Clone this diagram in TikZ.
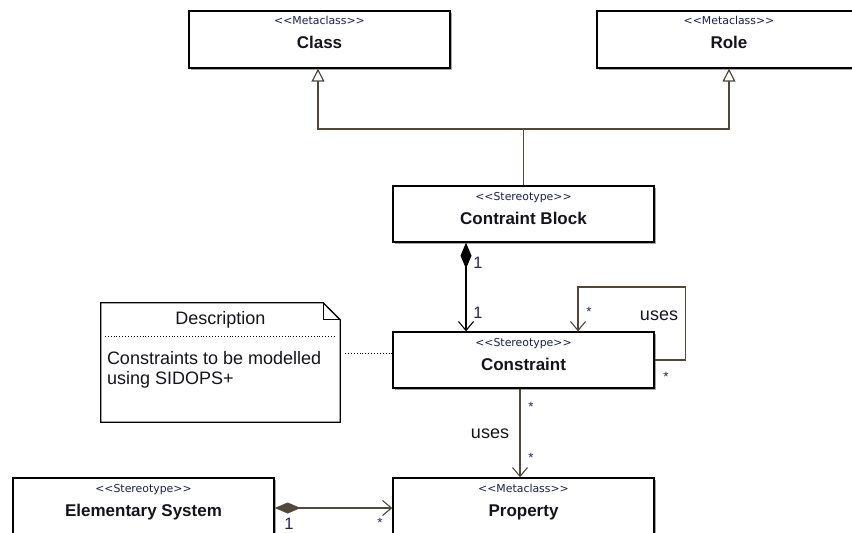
\documentclass[tikz,border=0pt]{standalone}
\usepackage{fontspec}
\setmainfont{Liberation Sans}
\newfontfamily\stereofont{DejaVu Sans}
\usetikzlibrary{arrows.meta,shadows}
\definecolor{linkcol}{RGB}{82,72,58}
\definecolor{multcol}{RGB}{45,30,100}
\definecolor{stereocol}{RGB}{25,32,80}
\definecolor{namecol}{RGB}{20,20,30}
\newcommand{\stereo}[1]{<\kern0pt<#1>\kern0pt>}
\tikzset{
  umlbox/.style={draw=black, line width=1.3pt, fill=white, inner sep=0pt,
    minimum width=261pt, minimum height=57pt,
    drop shadow={shadow xshift=1.8pt, shadow yshift=-1.8pt, fill=black!35, opacity=1}},
  sttext/.style={text=stereocol, font=\stereofont\fontsize{10.9}{12}\selectfont, inner sep=0pt, anchor=base},
  nametext/.style={text=namecol, font=\bfseries\fontsize{17}{20}\selectfont, inner sep=0pt, anchor=base},
  mult/.style={text=multcol, font=\fontsize{16.5}{18}\selectfont, inner sep=0pt},
  star/.style={text=multcol, font=\fontsize{13.5}{14}\selectfont, inner sep=0pt},
  assoclabel/.style={text=namecol, font=\fontsize{18}{20}\selectfont, inner sep=0pt},
  link/.style={draw=linkcol, line width=1.2pt},
  genarrow/.style={link, -{Triangle[open, length=13pt, width=13pt, fill=white]}},
  navarrow/.style={-{Straight Barb[length=9pt, width=15pt, line width=1.1pt]}},
  notetext/.style={text=namecol, font=\fontsize{18}{22}\selectfont, inner sep=0pt},
}
\begin{document}
\begin{tikzpicture}[x=1pt, y=-1pt]
  \useasboundingbox (0,0) rectangle (852,533);
  \clip (0,0) rectangle (852,533);

  % class boxes
  \node[umlbox] (cls)  at (319.5,39.5) {};
  \node[umlbox, minimum width=264pt] (role) at (729,39.5) {};
  \node[umlbox, minimum height=56pt] (blk)  at (523.5,214) {};
  \node[umlbox, minimum height=56pt] (con)  at (523.5,360) {};
  \node[umlbox] (prop) at (523.5,506.5) {};
  \node[umlbox] (elem) at (143.5,506.5) {};

  % stereotypes and names (placed on their baselines)
  \node[sttext]   (clsst)  at ([yshift=-14.5pt]cls.north)  {\stereo{Metaclass}};
  \node[nametext] (clsnm)  at ([yshift=-38.5pt]cls.north)  {Class};
  \node[sttext]   (rolest) at ([yshift=-14.5pt]role.north) {\stereo{Metaclass}};
  \node[nametext] (rolenm) at ([yshift=-38.5pt]role.north) {Role};
  \node[sttext]   (blkst)  at ([yshift=-15pt]blk.north)  {\stereo{Stereotype}};
  \node[nametext] (blknm)  at ([yshift=-39pt]blk.north)  {Contraint Block};
  \node[sttext]   (const)  at ([yshift=-15pt]con.north)  {\stereo{Stereotype}};
  \node[nametext] (connm)  at ([yshift=-39pt]con.north)  {Constraint};
  \node[sttext]   (propst) at ([yshift=-15pt]prop.north) {\stereo{Metaclass}};
  \node[nametext] (propnm) at ([yshift=-39pt]prop.north) {Property};
  \node[sttext]   (elemst) at ([yshift=-15pt]elem.north) {\stereo{Stereotype}};
  \node[nametext] (elemnm) at ([yshift=-39pt]elem.north) {Elementary System};

  % note with folded corner
  \node[minimum width=239pt, minimum height=119pt, inner sep=0pt] (note) at (220.5,362.5) {};
  \draw[line width=1.3pt, fill=white]
    (note.south west) -- (note.north west) -- ([xshift=-17pt]note.north east)
    -- ([yshift=-17pt]note.north east) -- (note.south east) -- cycle;
  \draw[line width=1.1pt]
    ([xshift=-17pt]note.north east) -- ([xshift=-17pt,yshift=-17pt]note.north east)
    -- ([yshift=-17pt]note.north east);
  \draw[line width=0.9pt, dotted] ([xshift=4pt,yshift=-34pt]note.north west)
    -- ([xshift=-4pt,yshift=-34pt]note.north east);
  \node[notetext] (notehd) at ([yshift=-17pt]note.north) {Description};
  \node[notetext, anchor=west] (notel1) at ([xshift=6pt,yshift=-55pt]note.north west) {Constraints to be modelled};
  \node[notetext, anchor=west] (notel2) at ([xshift=6pt,yshift=-77pt]note.north west) {using SIDOPS+};
  \coordinate (conlink) at ([yshift=7pt]con.west);
  \draw[line width=0.9pt, dotted] (conlink) -- ([xshift=4pt]note.east |- conlink);

  % generalisations
  \coordinate (genjoin) at (523.5,129);
  \draw[link] (blk.north) -- (genjoin);
  \draw[genarrow] (genjoin) -| ([xshift=-1.5pt]cls.south);
  \draw[genarrow] (genjoin) -| (role.south);

  % composition Contraint Block -> Constraint
  \draw[line width=1.2pt, {Diamond[length=26pt, width=11pt, fill=black]}-{Straight Barb[length=9pt, width=15pt, line width=1.1pt]}]
    ([xshift=-57.5pt]blk.south) -- ([xshift=-57.5pt]con.north);
  \node[mult] (m1a) at (478,263) {1};
  \node[mult] (m1b) at (478,313) {1};

  % self association "uses"
  \draw[link, navarrow] (con.east) -- ++(31,0) -- ++(0,-73) -| ([xshift=54.5pt]con.north);
  \node[star] (s1) at (589,312) {*};
  \node[assoclabel] (uses1) at (659,316) {uses};
  \node[star] (s2) at (666,377) {*};

  % Constraint uses Property
  \draw[link, navarrow] ([xshift=-3.5pt]con.south) -- ([xshift=-3.5pt]prop.north);
  \node[star] (s3) at (531,407) {*};
  \node[assoclabel] (uses2) at (490,434) {uses};
  \node[star] (s4) at (531,458) {*};

  % composition Elementary System -> Property
  \draw[link, {Diamond[length=26pt, width=11pt, fill=linkcol]}-{Straight Barb[length=9pt, width=15pt, line width=1.1pt]}]
    ([yshift=-1.5pt]elem.east) -- ([yshift=-1.5pt]prop.west);
  \node[mult] (m2a) at (289,524) {1};
  \node[star] (s5) at (380,523) {*};
\end{tikzpicture}
\end{document}
